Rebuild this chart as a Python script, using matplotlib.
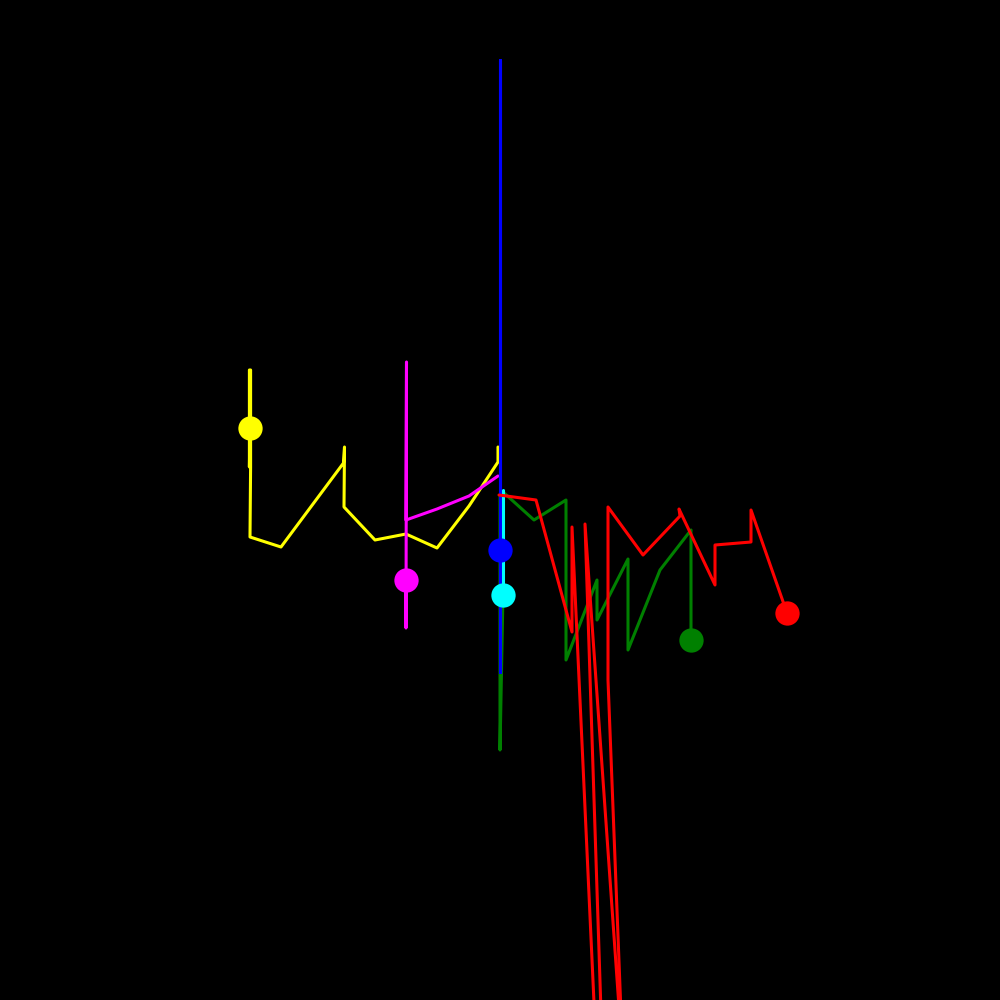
import matplotlib
matplotlib.use("Agg")
import matplotlib.pyplot as plt

# Trajectories (x, y in chart units, y grows downward); last point carries the dot
yellow_x = [498, 498, 469, 437, 406, 375, 344, 344.5, 343.5, 281, 250, 250.6, 250.6, 249.4, 249.4, 250]
yellow_y = [447, 462, 506, 548, 534, 540, 507, 447, 463, 547, 537, 467, 370, 370, 467, 428]

magenta_x = [498, 469, 437, 406, 406.5, 406, 406]
magenta_y = [476, 496, 509, 520, 362, 628, 580]

green_x = [500, 500, 503, 503, 534, 566, 566, 597, 597, 628, 628, 660, 691, 691]
green_y = [495, 750, 592, 492, 520, 500, 660, 580, 620, 559, 650, 570, 530, 640]

blue_x = [500, 500, 500, 500]
blue_y = [495, 60, 672, 550]

cyan_x = [503, 503]
cyan_y = [490, 595]

red_x = [499, 536, 572, 572, 617, 585, 623, 608, 608, 643, 680, 679, 715, 715, 751, 751, 787]
red_y = [495, 500, 632, 527, 1500, 524, 1064, 680, 507, 555, 516, 509, 585, 545, 542, 510, 613]

series = [
    (yellow_x, yellow_y, "#ffff00"),
    (magenta_x, magenta_y, "#ff00ff"),
    (green_x, green_y, "#008000"),
    (blue_x, blue_y, "#0000ff"),
    (cyan_x, cyan_y, "#00ffff"),
    (red_x, red_y, "#ff0000"),
]

fig = plt.figure(figsize=(10, 10), dpi=100, facecolor="black")
ax = fig.add_axes([0, 0, 1, 1])
ax.set_facecolor("black")

for i, (xs, ys, c) in enumerate(series):
    ax.plot(xs, ys, color=c, lw=2.2, solid_capstyle="round", zorder=2 + i * 0.1)
for xs, ys, c in series:
    ax.plot([xs[-1]], [ys[-1]], "o", color=c, markersize=17.5, markeredgewidth=0, zorder=5)

ax.set_xlim(0, 1000)
ax.set_ylim(1000, 0)
ax.axis("off")
fig.savefig("out.png", dpi=100, facecolor="black")
